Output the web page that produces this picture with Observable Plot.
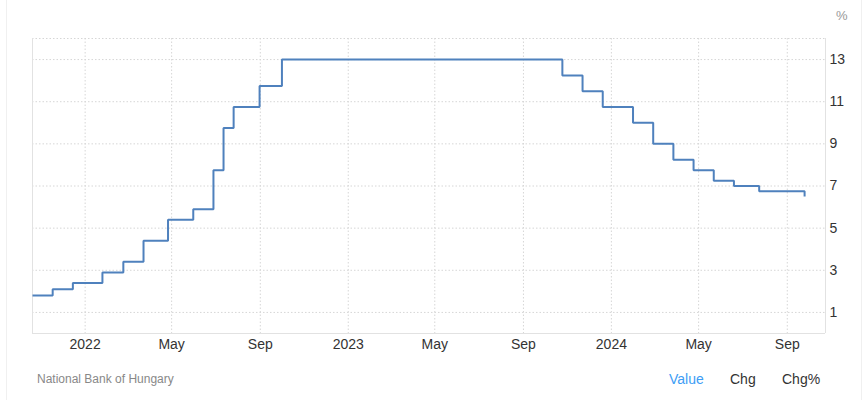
<!DOCTYPE html>
<html>
<head>
<meta charset="utf-8">
<script src="https://cdn.jsdelivr.net/npm/d3@7"></script>
<script src="https://cdn.jsdelivr.net/npm/@observablehq/plot@0.6"></script>
<style>
  body { margin: 0; background: #fff; font-family: "Liberation Sans", Arial, sans-serif; }
  #wrap { position: relative; width: 864px; height: 400px; overflow: hidden; }
  #edge { position: absolute; left: 6px; top: 0; width: 856px; height: 400px; box-sizing: border-box;
          border-left: 1px solid #f0f0f0; border-right: 1px solid #f0f0f0; }
  #chart { position: absolute; left: 0; top: 0; }
  #unit { position: absolute; left: 836px; top: 8px; font-size: 13px; color: #999; }
  #source { position: absolute; left: 37px; top: 372px; font-size: 12px; color: #888; }
  .tab { position: absolute; top: 371px; font-size: 14px; color: #333; }
</style>
</head>
<body>
<div id="wrap">
  <div id="edge"></div>
  <div id="chart"></div>
  <div id="unit">%</div>
  <div id="source">National Bank of Hungary</div>
  <div class="tab" style="left:669px;color:#3d9df5">Value</div>
  <div class="tab" style="left:730px">Chg</div>
  <div class="tab" style="left:782px">Chg%</div>
</div>
<script>
// Hungary base rate, change dates
let dates = [
  "2021-10-20", "2021-11-17", "2021-12-15", "2022-01-25", "2022-02-23", "2022-03-23",
  "2022-04-26", "2022-05-31", "2022-06-28", "2022-07-12", "2022-07-26", "2022-08-31",
  "2022-10-01", "2023-10-25", "2023-11-22", "2023-12-20", "2024-01-31", "2024-02-28",
  "2024-03-27", "2024-04-24", "2024-05-22", "2024-06-19", "2024-07-24", "2024-09-25"
];
let rates = [
  1.8, 2.1, 2.4, 2.9, 3.4, 4.4,
  5.4, 5.9, 7.75, 9.75, 10.75, 11.75,
  13, 12.25, 11.5, 10.75, 10, 9,
  8.25, 7.75, 7.25, 7, 6.75, 6.5
];
let xTicks = [
  "2022-01-01", "2022-05-01", "2022-09-01", "2023-01-01", "2023-05-01",
  "2023-09-01", "2024-01-01", "2024-05-01", "2024-09-01"
].map((d) => new Date(d));
let yTicks = [1, 3, 5, 7, 9, 11, 13];
let xDomain = [new Date("2021-10-20"), new Date("2024-10-24")];
let yDomain = [0, 14];

let data = dates.map((d, i) => ({ date: new Date(d), rate: rates[i] }));

let fmt = (d) => (d.getUTCMonth() === 0 ? String(d.getUTCFullYear()) : d3.utcFormat("%b")(d));

let chart = Plot.plot({
  width: 864,
  height: 360,
  marginTop: 38,
  marginBottom: 27,
  marginLeft: 32,
  marginRight: 39,
  style: { fontFamily: '"Liberation Sans", Arial, sans-serif', fontSize: "14px", color: "#333", background: "transparent" },
  x: { type: "utc", domain: xDomain },
  y: { domain: yDomain },
  marks: [
    Plot.gridX(xTicks, { stroke: "#d6d6d6", strokeOpacity: 1, strokeDasharray: "1.5,2" }),
    Plot.gridY(yTicks, { stroke: "#d6d6d6", strokeOpacity: 1, strokeDasharray: "1.5,2" }),
    Plot.ruleY([yDomain[1]], { stroke: "#d6d6d6", strokeDasharray: "1.5,2" }),
    Plot.ruleY([yDomain[0]], { stroke: "#e2e2e2" }),
    Plot.ruleX(xDomain, { stroke: "#e2e2e2" }),
    Plot.axisX(xTicks, { tickSize: 0, tickPadding: 6, tickFormat: fmt, label: null, fill: "#333", fontSize: 14 }),
    Plot.axisY(yTicks, { anchor: "right", tickSize: 0, tickPadding: 4, label: null, fill: "#333", fontSize: 14 }),
    Plot.line(data, {
      x: "date",
      y: "rate",
      curve: "step-after",
      stroke: "#4f81bd",
      strokeWidth: 2,
      strokeLinejoin: "miter",
      strokeLinecap: "butt",
    }),
  ],
});

d3.select("#chart").append(() => chart);
</script>
</body>
</html>
